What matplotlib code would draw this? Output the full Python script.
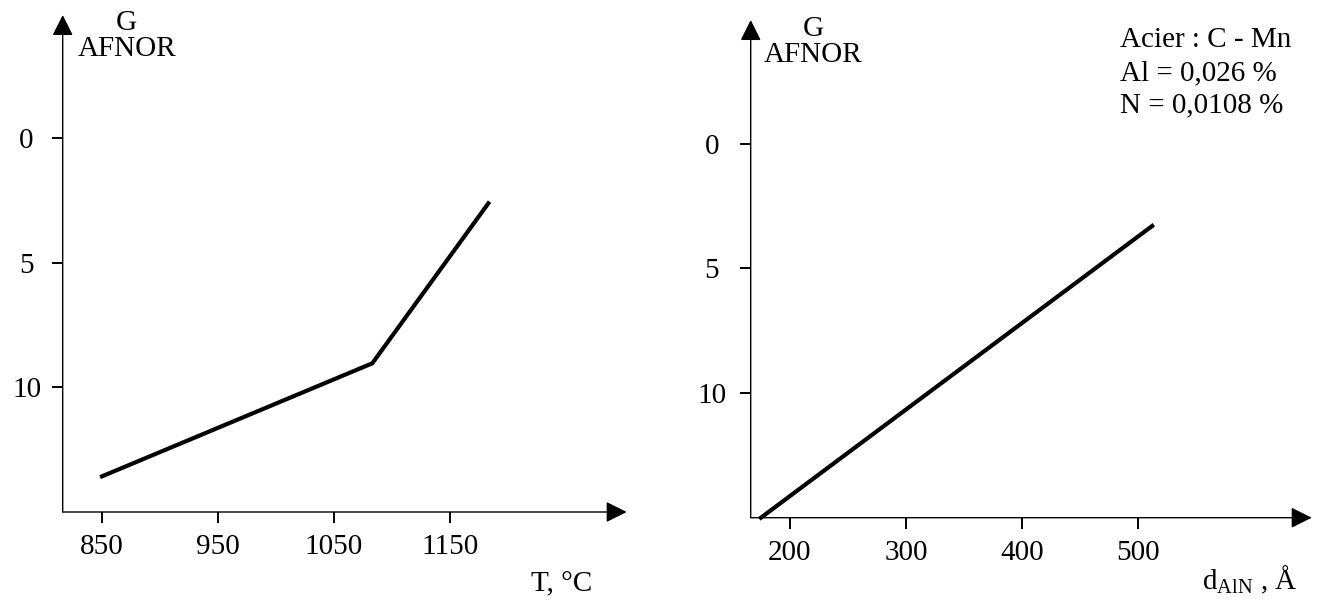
import matplotlib
matplotlib.use("Agg")
import matplotlib.pyplot as plt

plt.rcParams["font.family"] = ["Liberation Serif", "DejaVu Serif"]
plt.rcParams["mathtext.fontset"] = "custom"
plt.rcParams["mathtext.rm"] = "Liberation Serif"

# Left panel: grain size G (AFNOR) vs austenitising temperature
temp_c = [850, 1083, 1183]
grain_left = [13.57, 9.04, 2.63]
temp_ticks = [850, 950, 1050, 1150]

# Right panel: grain size G (AFNOR) vs AlN precipitate diameter
d_aln = [175, 512]
grain_right = [15.0, 3.3]
d_ticks = [200, 300, 400, 500]

g_ticks = [0, 5, 10]

W, H = 1318, 601
fig = plt.figure(figsize=(W / 100, H / 100), dpi=100)


def px(x, y):
    return x / W, 1 - y / H


def make_axes(x0, y_top, x1, y_axis, xlim, ylim, ypad):
    ax = fig.add_axes([x0 / W, 1 - y_axis / H, (x1 - x0) / W, (y_axis - y_top) / H])
    ax.set_xlim(*xlim)
    ax.set_ylim(*ylim)
    for s in ax.spines.values():
        s.set_visible(False)
    arrow = dict(arrowstyle="-|>", color="black", lw=1.0, mutation_scale=32,
                 shrinkA=0, shrinkB=0)
    ax.annotate("", xy=(1, 0), xytext=(0, 0), xycoords="axes fraction",
                arrowprops=arrow)
    ax.annotate("", xy=(0, 1), xytext=(0, 0), xycoords="axes fraction",
                arrowprops=arrow)
    ax.tick_params(direction="out", length=8, width=1.4, labelsize=21)
    ax.tick_params(axis="x", pad=8)
    ax.tick_params(axis="y", pad=ypad)
    ax.set_yticks(g_ticks)
    ax.set_yticklabels([str(v) for v in g_ticks])
    for lab in ax.get_yticklabels():
        lab.set_horizontalalignment("center")
    return ax


ax1 = make_axes(62.7, 15, 626.7, 512, (816.1, 1302.3), (15.0, -4.92), 18)
ax1.set_xticks(temp_ticks)
ax1.set_xticklabels([str(v) for v in temp_ticks])
ax1.plot(temp_c, grain_left, color="black", lw=3, clip_on=False)

ax2 = make_axes(750.7, 20, 1311.7, 517.7, (166.2, 649.4), (15.0, -4.96), 20)
ax2.set_xticks(d_ticks)
ax2.set_xticklabels([str(v) for v in d_ticks])
ax2.plot(d_aln, grain_right, color="black", lw=3, clip_on=False)

fs = 21
fig.text(*px(126.7, 23), "G", ha="center", va="center", fontsize=fs)
fig.text(*px(126.7, 49), "AFNOR", ha="center", va="center", fontsize=fs)
fig.text(*px(813, 29), "G", ha="center", va="center", fontsize=fs)
fig.text(*px(813, 55), "AFNOR", ha="center", va="center", fontsize=fs)

fig.text(*px(562, 584), "T, °C", ha="center", va="center", fontsize=fs)
fig.text(*px(1250, 580), r"d$_{\rm AlN}$ , Å", ha="center", va="center", fontsize=fs)

fig.text(*px(1120, 40), "Acier : C - Mn", ha="left", va="center", fontsize=fs)
fig.text(*px(1120, 73), "Al = 0,026 %", ha="left", va="center", fontsize=fs)
fig.text(*px(1120, 105), "N = 0,0108 %", ha="left", va="center", fontsize=fs)

fig.savefig("out.png", dpi=100)
